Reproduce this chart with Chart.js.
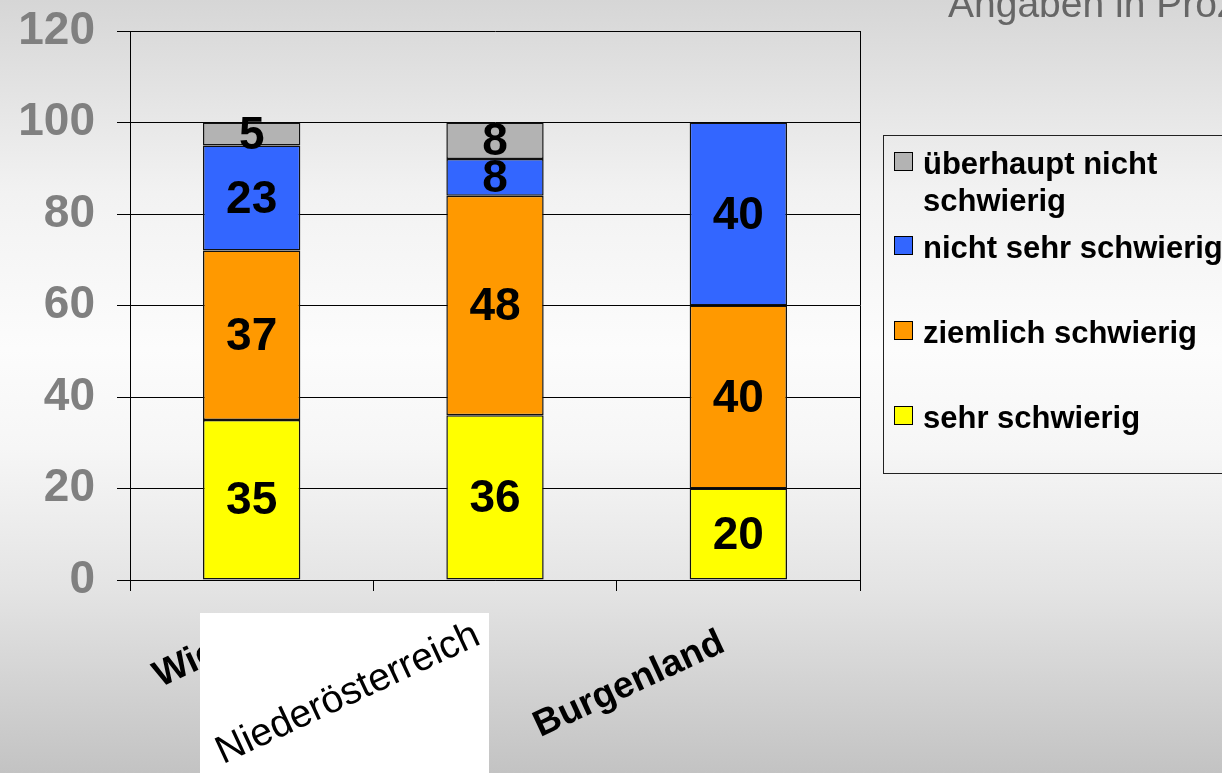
<!DOCTYPE html>
<html>
<head>
<meta charset="utf-8">
<script src="https://cdn.jsdelivr.net/npm/chart.js@4.4.1/dist/chart.umd.min.js"></script>
<style>
  html, body { margin: 0; padding: 0; }
  body {
    width: 1222px; height: 773px; overflow: hidden; position: relative;
    background: linear-gradient(to bottom, #d6d6d6 0%, #f2f2f2 25%, #fcfcfc 45%, #f6f6f6 58%, #e4e4e4 76%, #c3c3c3 100%);
    font-family: 'Liberation Sans', Arial, sans-serif;
  }
  #chart { position: absolute; left: 0; top: 0; }
  #note {
    position: absolute; left: 948px; top: -16px; white-space: nowrap;
    font-size: 39px; line-height: 39px; color: #666;
  }
  #legend {
    position: absolute; left: 883px; top: 135px; width: 360px; height: 339px;
    box-sizing: border-box; border: 1px solid #222;
  }
  .item { position: absolute; left: 0; right: 0; }
  .item .sw {
    position: absolute; left: 10px; top: 7px; width: 19px; height: 19px;
    box-sizing: border-box; border: 1px solid #000;
  }
  .item .tx {
    position: absolute; left: 39px; width: 300px;
    font-size: 31px; line-height: 37px; font-weight: bold; color: #000;
  }
</style>
</head>
<body>
<canvas id="chart" width="1222" height="773"></canvas>
<div id="note">Angaben in Prozent</div>
<div id="legend"></div>
<script>
// ══ DATA ═══════════════════════════════════════════════════════
const categories = ['Wien', 'Niederösterreich', 'Burgenland'];
const seriesNames = ['sehr schwierig', 'ziemlich schwierig', 'nicht sehr schwierig', 'überhaupt nicht schwierig'];
const sehrSchwierig = [35, 36, 20];
const ziemlichSchwierig = [37, 48, 40];
const nichtSehrSchwierig = [23, 8, 40];
const ueberhauptNicht = [5, 8, 0];
const yMin = 0, yMax = 120, yStep = 20;

const seriesColors = ['#ffff00', '#ff9900', '#3366ff', '#b3b3b3'];
const seriesValues = [sehrSchwierig, ziemlichSchwierig, nichtSehrSchwierig, ueberhauptNicht];

const FONT = "'Liberation Sans', Arial, sans-serif";

// ══ LEGEND (html, reversed like the original) ══════════════════
const legendEl = document.getElementById('legend');
seriesNames.slice().reverse().forEach((name, i) => {
  const col = seriesColors[seriesNames.length - 1 - i];
  const it = document.createElement('div');
  it.className = 'item';
  it.style.top = (8.5 + i * 84.7) + 'px';
  it.innerHTML = '<div class="sw" style="background:' + col + '"></div><div class="tx">' + name + '</div>';
  legendEl.appendChild(it);
});

// ══ PLUGINS ════════════════════════════════════════════════════
const segmentLabels = {
  id: 'segmentLabels',
  afterDatasetsDraw(chart) {
    const ctx = chart.ctx;
    ctx.save();
    ctx.font = 'bold 46px ' + FONT;
    ctx.fillStyle = '#000';
    ctx.textAlign = 'center';
    ctx.textBaseline = 'middle';
    chart.data.datasets.forEach((ds, di) => {
      chart.getDatasetMeta(di).data.forEach((bar, i) => {
        const v = ds.data[i];
        if (!v) return;
        ctx.fillText(String(v), bar.x, (bar.y + bar.base) / 2 + 2);
      });
    });
    ctx.restore();
  }
};

// right frame line + the pasted white box with the second category name
const frameAndBox = {
  id: 'frameAndBox',
  afterDraw(chart) {
    const ctx = chart.ctx, a = chart.chartArea;
    ctx.save();
    ctx.strokeStyle = '#000';
    ctx.lineWidth = 1;
    ctx.beginPath();
    ctx.moveTo(a.right + 0.5, a.top);
    ctx.lineTo(a.right + 0.5, a.bottom);
    ctx.stroke();

    const cx = chart.scales.x.getPixelForValue(1);
    ctx.fillStyle = '#fff';
    ctx.fillRect(cx - 295, 613, 289, 160);
    ctx.translate(cx - 147, 694);
    ctx.rotate(-25 * Math.PI / 180);
    ctx.fillStyle = '#000';
    ctx.font = '39px ' + FONT;
    ctx.textAlign = 'center';
    ctx.textBaseline = 'middle';
    ctx.fillText(categories[1], 0, 0);
    ctx.restore();
  }
};

// ══ CHART ══════════════════════════════════════════════════════
new Chart(document.getElementById('chart'), {
  type: 'bar',
  data: {
    labels: categories,
    datasets: seriesNames.map((name, k) => ({
      label: name,
      data: seriesValues[k],
      backgroundColor: seriesColors[k],
      borderColor: '#111',
      borderWidth: 1.5,
      borderSkipped: false,
      categoryPercentage: 1,
      barPercentage: 0.4,
    }))
  },
  options: {
    responsive: false,
    animation: false,
    layout: { autoPadding: false, padding: { left: 0, top: 31, right: 362, bottom: 0 } },
    plugins: { legend: { display: false }, tooltip: { enabled: false } },
    scales: {
      x: {
        stacked: true,
        afterFit(scale) { scale.height = 193; },
        grid: { drawOnChartArea: false, drawTicks: true, tickLength: 11, color: '#000', offset: true },
        border: { color: '#000', width: 1 },
        ticks: {
          minRotation: 25, maxRotation: 25, autoSkip: false,
          labelOffset: -16, padding: 30,
          color: '#000', font: { family: FONT, size: 37, weight: 'bold' },
          callback: (v, i) => i === 1 ? '' : categories[i],
        },
      },
      y: {
        stacked: true,
        min: yMin, max: yMax,
        afterFit(scale) { scale.width = 130; scale.paddingTop = 0; scale.paddingBottom = 0; },
        grid: { color: '#000', lineWidth: 1, tickLength: 13 },
        border: { color: '#000', width: 1 },
        ticks: {
          stepSize: yStep, padding: 22,
          color: '#808080', font: { family: FONT, size: 46, weight: 'bold' },
        },
      },
    },
  },
  plugins: [segmentLabels, frameAndBox],
});
</script>
</body>
</html>
